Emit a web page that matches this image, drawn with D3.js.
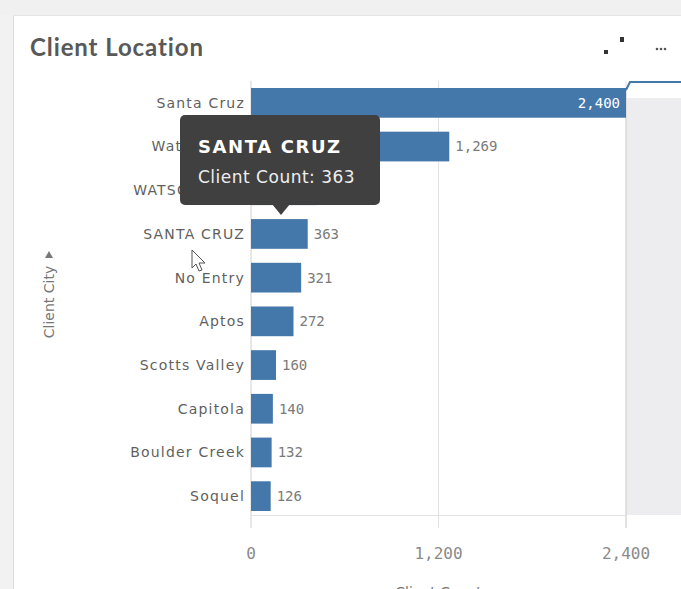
<!DOCTYPE html>
<meta charset="utf-8">
<script src="https://d3js.org/d3.v7.min.js"></script>
<style>
  body { margin: 0; background: #f2f2f2; }
  svg { display: block; }
</style>
<body>
<div id="my_dataviz"></div>
<script>
  // data
  var cities = ["Santa Cruz", "Watsonville", "WATSONVILLE", "SANTA CRUZ", "No Entry",
    "Aptos", "Scotts Valley", "Capitola", "Boulder Creek", "Soquel"];
  var counts = [2400, 1269, 420, 363, 321, 272, 160, 140, 132, 126];
  var xTicks = [0, 1200, 2400];
  var tipCity = "SANTA CRUZ";
  var tipCount = 363;

  var width = 681, height = 589;
  var svg = d3.select("#my_dataviz").append("svg")
    .attr("width", width)
    .attr("height", height);

  var sans = "'DejaVu Sans', sans-serif";
  var mono = "'DejaVu Sans Mono', monospace";

  // card
  svg.append("rect").attr("x", 0).attr("y", 0).attr("width", width).attr("height", 15).attr("fill", "#f0f0f0");
  svg.append("rect").attr("x", 13).attr("y", 15).attr("width", width - 13).attr("height", height - 15)
    .attr("fill", "#fff");
  svg.append("line").attr("x1", 13.5).attr("x2", 13.5).attr("y1", 15).attr("y2", height)
    .attr("stroke", "#ddd");
  svg.append("line").attr("x1", 13).attr("x2", width).attr("y1", 15.5).attr("y2", 15.5)
    .attr("stroke", "#e4e4e4");

  // title
  svg.append("text")
    .attr("x", 30).attr("y", 56)
    .attr("font-family", "Lato, 'Open Sans', sans-serif")
    .attr("font-size", "24px").attr("font-weight", "bold")
    .attr("letter-spacing", "0.9px")
    .attr("fill", "#595959")
    .text("Client Location");

  // expand icon + menu dots
  svg.append("rect").attr("x", 604).attr("y", 50).attr("width", 4).attr("height", 4).attr("fill", "#333");
  svg.append("rect").attr("x", 620).attr("y", 37).attr("width", 4).attr("height", 5).attr("fill", "#333");
  [657, 661, 665].forEach(function (cx) {
    svg.append("circle").attr("cx", cx).attr("cy", 49).attr("r", 1.3).attr("fill", "#555");
  });

  var x = d3.scaleLinear().domain([0, 2400]).range([251, 626]);
  var y = d3.scaleBand().domain(cities).range([81, 518]).paddingInner(0.32).paddingOuter(0.16);

  // out of range panel
  svg.append("rect").attr("x", 626).attr("y", 98).attr("width", width - 626).attr("height", 417)
    .attr("fill", "#ededf0");
  svg.append("line").attr("x1", 626).attr("x2", 626).attr("y1", 90).attr("y2", 528)
    .attr("stroke", "#c4c4c4");

  // grid
  svg.append("g").selectAll("line").data(xTicks).enter().append("line")
    .attr("x1", function (d) { return x(d); })
    .attr("x2", function (d) { return x(d); })
    .attr("y1", 81).attr("y2", 528)
    .attr("stroke", function (d) { return d === 0 ? "#d0d0d0" : "#e2e2e2"; });
  svg.append("line").attr("x1", x(0)).attr("x2", x(2400)).attr("y1", 515.5).attr("y2", 515.5)
    .attr("stroke", "#e2e2e2");

  // bars
  svg.append("g").selectAll("rect").data(cities).enter().append("rect")
    .attr("x", x(0))
    .attr("y", function (d) { return y(d); })
    .attr("width", function (d, i) { return x(counts[i]) - x(0); })
    .attr("height", y.bandwidth())
    .attr("fill", "#4477aa");

  // torn edge of the clipped bar
  svg.append("path")
    .attr("d", "M626," + (y(cities[0]) + 2) + " L630,82 L" + width + ",82")
    .attr("fill", "none").attr("stroke", "#4477aa").attr("stroke-width", 2);

  // value labels
  svg.append("g").selectAll("text").data(cities).enter().append("text")
    .attr("x", function (d, i) { return i === 0 ? x(counts[i]) - 6 : x(counts[i]) + 6; })
    .attr("y", function (d) { return y(d) + y.bandwidth() / 2; })
    .attr("dy", "0.35em")
    .attr("text-anchor", function (d, i) { return i === 0 ? "end" : "start"; })
    .attr("font-family", mono).attr("font-size", "14px")
    .attr("fill", function (d, i) { return i === 0 ? "#fff" : "#7a7a7a"; })
    .text(function (d, i) { return d3.format(",")(counts[i]); });

  // category labels
  svg.append("g").selectAll("text").data(cities).enter().append("text")
    .attr("x", 245)
    .attr("y", function (d) { return y(d) + y.bandwidth() / 2; })
    .attr("dy", "0.35em")
    .attr("text-anchor", "end")
    .attr("font-family", sans).attr("font-size", "14px")
    .attr("letter-spacing", "1.2px")
    .attr("fill", "#5f5f5f")
    .text(function (d) { return d; });

  // x tick labels
  svg.append("g").selectAll("text").data(xTicks).enter().append("text")
    .attr("x", function (d) { return x(d); })
    .attr("y", 559)
    .attr("text-anchor", "middle")
    .attr("font-family", mono).attr("font-size", "16px")
    .attr("fill", "#8a8a8a")
    .text(function (d) { return d3.format(",")(d); });

  // axis titles
  svg.append("text").attr("x", x(1200)).attr("y", 597).attr("text-anchor", "middle")
    .attr("font-family", sans).attr("font-size", "14px").attr("fill", "#777")
    .text("Client Count");
  svg.append("text").attr("transform", "translate(54,302) rotate(-90)")
    .attr("text-anchor", "middle")
    .attr("font-family", sans).attr("font-size", "14px").attr("fill", "#777")
    .text("Client City");
  svg.append("path").attr("d", "M45,258 L53,258 L49,251 Z").attr("fill", "#777");

  // tooltip
  var tip = svg.append("g");
  tip.append("rect").attr("x", 180).attr("y", 115).attr("width", 200).attr("height", 90).attr("rx", 5)
    .attr("fill", "#404040");
  tip.append("path").attr("d", "M272,204 L281,215 L290,204 Z").attr("fill", "#404040");
  tip.append("text").attr("x", 198).attr("y", 153)
    .attr("font-family", sans).attr("font-size", "18px").attr("font-weight", "bold")
    .attr("letter-spacing", "1.6px")
    .attr("fill", "#fff").text(tipCity);
  tip.append("text").attr("x", 198).attr("y", 183)
    .attr("font-family", sans).attr("font-size", "17px")
    .attr("letter-spacing", "0.5px")
    .attr("fill", "#eee").text("Client Count: " + tipCount);

  // mouse pointer
  svg.append("path")
    .attr("d", "M192,250 L192,268 L196,264 L199,271 L202,270 L199,263 L205,263 Z")
    .attr("fill", "#fff").attr("stroke", "#555").attr("stroke-width", 1);
</script>
</body>
